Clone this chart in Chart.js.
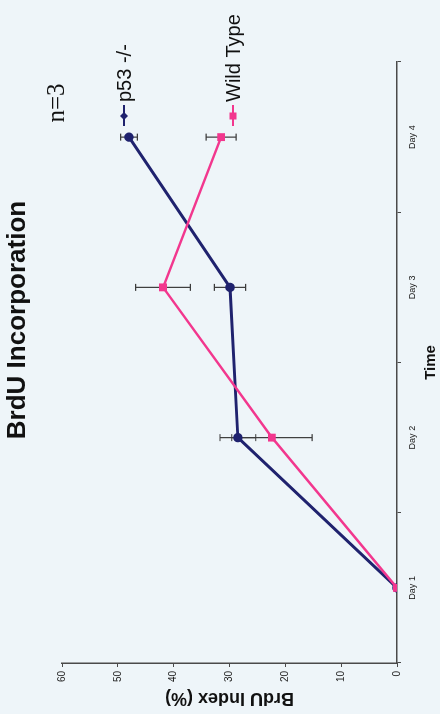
<!DOCTYPE html>
<html>
<head>
<meta charset="utf-8">
<script src="https://cdn.jsdelivr.net/npm/chart.js@4"></script>
<style>
  html, body { margin: 0; padding: 0; background: #eef5f9; overflow: hidden; }
  /* the source figure is a landscape chart turned on its side */
  #wrap {
    position: absolute; left: 0; top: 714px;
    width: 714px; height: 440px;
    transform-origin: 0 0; transform: rotate(-90deg);
  }
</style>
</head>
<body>
<div id="wrap"><canvas id="chart" width="714" height="440"></canvas></div>
<script>
// Data
const days = ['Day 1', 'Day 2', 'Day 3', 'Day 4'];
const p53 = [0, 28.5, 29.9, 48.0];
const p53Err = [0, 3.2, 2.8, 1.5];
const wildType = [0, 22.4, 41.9, 31.5];
const wildTypeErr = [0, 7.2, 4.9, 2.7];
const yTicks = [0, 10, 20, 30, 40, 50, 60];

const NAVY = '#1f226e';
const PINK = '#f2378e';
const AXIS = '#4a4a4a';
const SANS = '"Liberation Sans", Arial, sans-serif';

// Background fill
const background = {
    id: 'background',
    beforeDraw(chart) {
        const ctx = chart.ctx;
        ctx.save();
        ctx.fillStyle = '#eef5f9';
        ctx.fillRect(0, 0, chart.width, chart.height);
        ctx.restore();
    }
};

// Error bars (mean +/- SD), positioned through the scales
const errorBars = {
    id: 'errorBars',
    beforeDatasetsDraw(chart) {
        const { ctx, scales: { y } } = chart;
        ctx.save();
        ctx.strokeStyle = '#3c3c3c';
        ctx.lineWidth = 1.2;
        chart.data.datasets.forEach((ds, di) => {
            const meta = chart.getDatasetMeta(di);
            ds.errors.forEach((e, i) => {
                if (!e) return;
                const px = meta.data[i].x;
                const top = y.getPixelForValue(ds.data[i] + e);
                const bot = y.getPixelForValue(ds.data[i] - e);
                ctx.beginPath();
                ctx.moveTo(px, top); ctx.lineTo(px, bot);
                ctx.moveTo(px - 3.5, top); ctx.lineTo(px + 3.5, top);
                ctx.moveTo(px - 3.5, bot); ctx.lineTo(px + 3.5, bot);
                ctx.stroke();
            });
        });
        ctx.restore();
    }
};

// Title, n=3 note and the legend placed inside the plot like the original
const labels = {
    id: 'labels',
    afterDraw(chart) {
        const ctx = chart.ctx;
        ctx.save();
        ctx.fillStyle = '#111';
        ctx.textBaseline = 'alphabetic';

        ctx.font = 'bold 26px ' + SANS;
        ctx.textAlign = 'center';
        ctx.fillText('BrdU Incorporation', 394, 25);

        ctx.font = '25px "Liberation Serif", "Times New Roman", serif';
        ctx.fillText('n=3', 611, 64);

        ctx.textAlign = 'left';
        ctx.font = '20px ' + SANS;
        chart.data.datasets.forEach((ds, di) => {
            const ly = di === 0 ? 124 : 233;
            ctx.strokeStyle = ds.borderColor;
            ctx.lineWidth = 2;
            ctx.beginPath();
            ctx.moveTo(588, ly); ctx.lineTo(609, ly);
            ctx.stroke();
            ctx.fillStyle = ds.borderColor;
            if (ds.pointStyle === 'rect') {
                ctx.fillRect(594.5, ly - 3.5, 7, 7);
            } else {
                ctx.beginPath();
                ctx.moveTo(598, ly - 4); ctx.lineTo(602, ly);
                ctx.lineTo(598, ly + 4); ctx.lineTo(594, ly);
                ctx.closePath(); ctx.fill();
            }
            ctx.fillStyle = '#111';
            ctx.fillText(ds.label, 612, ly + 7);
        });
        ctx.restore();
    }
};

const ctx = document.getElementById('chart').getContext('2d');
new Chart(ctx, {
    type: 'line',
    data: {
        labels: days,
        datasets: [{
            label: 'p53 -/-',
            data: p53,
            errors: p53Err,
            borderColor: NAVY,
            backgroundColor: NAVY,
            borderWidth: 3,
            pointStyle: 'circle',
            pointRadius: 3.2,
            order: 1
        }, {
            label: 'Wild Type',
            data: wildType,
            errors: wildTypeErr,
            borderColor: PINK,
            backgroundColor: PINK,
            borderWidth: 2.5,
            pointStyle: 'rect',
            pointRadius: 3.8,
            order: 0
        }]
    },
    options: {
        responsive: false,
        animation: false,
        layout: { padding: { top: 62, right: 62, bottom: 0, left: 0 } },
        plugins: {
            legend: { display: false },
            tooltip: { enabled: false }
        },
        scales: {
            x: {
                offset: true,
                afterFit: (s) => { s.height = 43; },
                grid: { offset: true, drawOnChartArea: false, drawTicks: true, tickLength: 4, color: AXIS, lineWidth: 1 },
                border: { display: true, color: AXIS, width: 1.5 },
                ticks: { color: '#222', padding: 6, font: { family: SANS, size: 9 } },
                title: { display: true, text: 'Time', color: '#111', padding: { top: 0, bottom: 0 }, font: { family: SANS, size: 15, weight: 'bold' } }
            },
            y: {
                min: 0,
                max: 60,
                afterFit: (s) => { s.width = 51; },
                afterBuildTicks: (s) => { s.ticks = yTicks.map(v => ({ value: v })); },
                grid: { drawOnChartArea: false, drawTicks: true, tickLength: 4, color: AXIS, lineWidth: 1 },
                border: { display: true, color: AXIS, width: 1.5 },
                ticks: { color: '#222', padding: 4, font: { family: SANS, size: 10 } },
                title: { display: true, text: 'BrdU Index (%)', color: '#111', padding: { top: 5, bottom: 0 }, font: { family: SANS, size: 18, weight: 'bold' } }
            }
        }
    },
    plugins: [background, errorBars, labels]
});
</script>
</body>
</html>
